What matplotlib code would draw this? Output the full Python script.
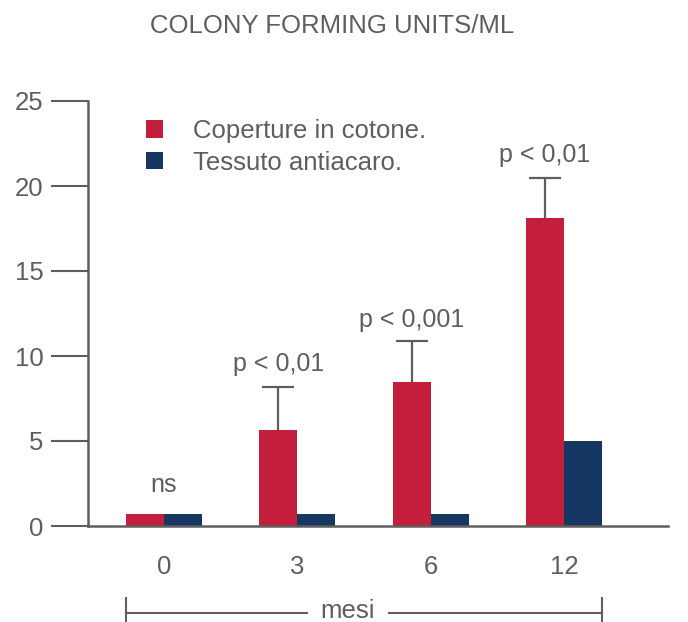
import numpy as np
import matplotlib.pyplot as plt
import matplotlib.transforms as mtransforms

plt.rcParams['font.family'] = ['Liberation Sans', 'DejaVu Sans']

months = ["0", "3", "6", "12"]
cotone = [0.7, 5.65, 8.5, 18.1]
cotone_err = [0.0, 2.5, 2.4, 2.4]
antiacaro = [0.7, 0.7, 0.7, 5.0]
p_labels = ["ns", "p < 0,01", "p < 0,001", "p < 0,01"]
p_label_y = [2.4, 9.5, 12.1, 21.8]

red = "#C31E3B"
blue = "#173763"
grey = "#5e5e5e"

fig = plt.figure(figsize=(6.88, 6.22), dpi=100)
ax = fig.add_axes([88 / 688, 1 - 526 / 622, 580 / 688, 425 / 622])

x = np.arange(len(months))
w = 0.285
ax.bar(x - w / 2, cotone, w, color=red, label="Coperture in cotone.")
ax.bar(x + w / 2, antiacaro, w, color=blue, label="Tessuto antiacaro.")

# upper error bars only
has_err = np.array(cotone_err) > 0
xe = x[has_err] - w / 2
ylo = np.array(cotone)[has_err]
yhi = ylo + np.array(cotone_err)[has_err]
ax.vlines(xe, ylo, yhi, color=grey, lw=1.6)
ax.hlines(yhi, xe - 0.12, xe + 0.12, color=grey, lw=1.6)

for xi, lab, yy in zip(x, p_labels, p_label_y):
    ax.text(xi - w / 2 if lab != "ns" else xi, yy, lab, ha="center", va="center",
            fontsize=18, color=grey)

ax.set_xlim(-0.57, 3.78)
ax.set_ylim(0, 25)
ax.set_yticks([0, 5, 10, 15, 20, 25])
ax.set_xticks(x)
ax.set_xticklabels(months)
ax.tick_params(axis="y", length=27, width=1.5, color=grey, labelcolor=grey,
               labelsize=18.5, pad=5)
ax.tick_params(axis="x", length=0, labelcolor=grey, labelsize=18.5, pad=21)

for side in ["top", "right"]:
    ax.spines[side].set_visible(False)
for side in ["left", "bottom"]:
    ax.spines[side].set_color(grey)
    ax.spines[side].set_linewidth(1.8)

fig.text(332 / 688, 1 - 26 / 622, "COLONY FORMING UNITS/ML", ha="center", va="center",
         fontsize=18.5, color=grey)

leg = ax.legend(loc="upper left", bbox_to_anchor=(0.06, 1.012), frameon=False,
                fontsize=18.5, handlelength=0.65, handleheight=0.65, handletextpad=1.2,
                labelspacing=0.3, labelcolor=grey)

# bracket "mesi" under the x axis
trans = mtransforms.blended_transform_factory(ax.transData, ax.transAxes)
left = x[0] - w
right = x[-1] + w
mid = (left + right) / 2
yb = -0.205
ax.plot([left, mid - 0.43], [yb, yb], color=grey, lw=1.5, transform=trans, clip_on=False)
ax.plot([mid + 0.19, right], [yb, yb], color=grey, lw=1.5, transform=trans, clip_on=False)
ax.plot([left, left], [-0.17, -0.23], color=grey, lw=1.5, transform=trans, clip_on=False)
ax.plot([right, right], [-0.17, -0.23], color=grey, lw=1.5, transform=trans, clip_on=False)
ax.text(mid - 0.12, yb + 0.005, "mesi", ha="center", va="center", fontsize=18.5, color=grey,
        transform=trans)

fig.savefig("out.png", dpi=100)
